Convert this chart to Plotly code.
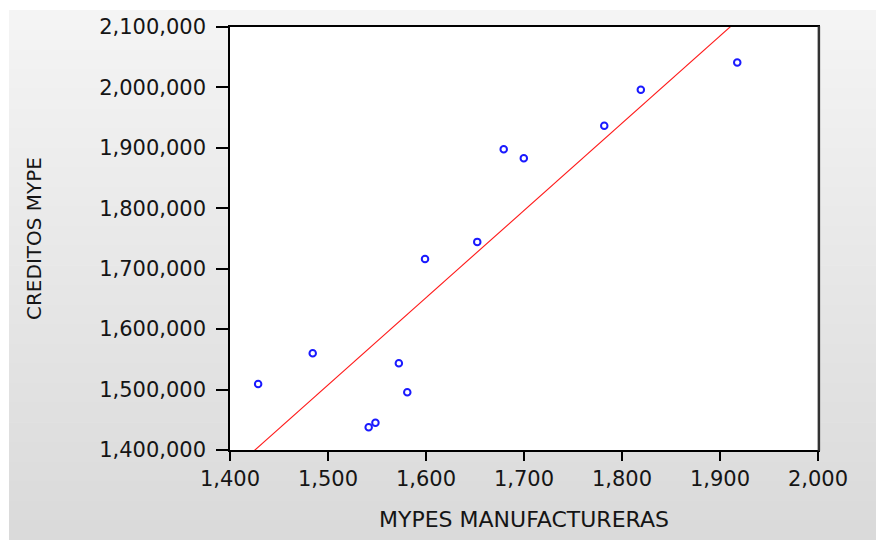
import numpy as np
import plotly.graph_objects as go

# Data
mypes_manufactureras = [1428.7, 1484.4, 1572.3, 1580.9, 1541.5, 1548.4, 1599.0,
                        1652.3, 1679.3, 1699.8, 1781.9, 1819.2, 1917.6]
creditos_mype = [1509300, 1560100, 1543500, 1495500, 1437500, 1445200, 1716000,
                 1744400, 1897800, 1882900, 1936400, 1996000, 2041200]

x_ticks = [1400, 1500, 1600, 1700, 1800, 1900, 2000]
y_ticks = [1400000, 1500000, 1600000, 1700000, 1800000, 1900000, 2000000, 2100000]

x_title = "MYPES MANUFACTURERAS"
y_title = "CREDITOS MYPE"

# OLS fit line
slope, intercept = np.polyfit(mypes_manufactureras, creditos_mype, 1)
fit_x = np.array([x_ticks[0], x_ticks[-1]])
fit_y = slope * fit_x + intercept

W, H = 876, 540
L, R, T, B = 230, 818, 27, 450
pw, ph = R - L, B - T

def px2paper_x(px):
    return (px - L) / pw

def px2paper_y(py):
    return (B - py) / ph

fig = go.Figure()

fig.add_trace(go.Scatter(
    x=fit_x, y=fit_y, mode="lines",
    line=dict(color="#ff1a1a", width=1.1),
    hoverinfo="skip", showlegend=False,
))
fig.add_trace(go.Scatter(
    x=mypes_manufactureras, y=creditos_mype, mode="markers",
    marker=dict(symbol="circle-open", size=6.5, color="#1a1aff", line=dict(width=2)),
    showlegend=False,
))

# Gradient background panel (light grey at top to darker grey at bottom)
shapes = []
top_px, bot_px, left_px, right_px = 10, 540, 9, 876
n = 27
c0, c1 = 245, 217
for i in range(n):
    y0 = top_px + (bot_px - top_px) * i / n
    y1 = top_px + (bot_px - top_px) * (i + 1) / n + 0.6
    c = round(c0 + (c1 - c0) * (i + 0.5) / n)
    shapes.append(dict(
        type="rect", xref="paper", yref="paper", layer="below",
        x0=px2paper_x(left_px), x1=px2paper_x(right_px),
        y0=px2paper_y(min(y1, bot_px)), y1=px2paper_y(y0),
        fillcolor=f"rgb({c},{c},{c})", line=dict(width=0),
    ))
# white plot area
shapes.append(dict(type="rect", xref="paper", yref="paper", layer="below",
                   x0=0, x1=1, y0=0, y1=1, fillcolor="white", line=dict(width=0)))
# darker right border of the frame
shapes.append(dict(type="line", xref="paper", yref="paper", layer="above",
                   x0=1.0015, x1=1.0015, y0=-0.002, y1=1.002,
                   line=dict(color="#333333", width=2.5)))

font_family = "DejaVu Sans, Verdana, sans-serif"
txt_color = "#151515"

fig.update_layout(
    width=W, height=H,
    margin=dict(l=L, r=W - R, t=T, b=H - B),
    paper_bgcolor="white",
    plot_bgcolor="white",
    shapes=shapes,
    font=dict(family=font_family, size=21, color=txt_color),
    showlegend=False,
)

fig.update_xaxes(
    range=[x_ticks[0], x_ticks[-1]],
    tickmode="array", tickvals=x_ticks,
    ticktext=[f"{v:,}" for v in x_ticks],
    ticks="outside", ticklen=9, tickwidth=1.5, tickcolor="black",
    showline=True, linecolor="black", linewidth=1.5, mirror=True,
    showgrid=False, zeroline=False,
    tickfont=dict(size=21, family=font_family, color=txt_color),
    title=dict(text=x_title, font=dict(size=22, family=font_family, color=txt_color), standoff=22),
)
fig.update_yaxes(
    range=[y_ticks[0], y_ticks[-1]],
    tickmode="array", tickvals=y_ticks,
    ticktext=[f"{v:,}" for v in y_ticks],
    ticks="outside", ticklen=12, tickwidth=1.5, tickcolor="black",
    showline=True, linecolor="black", linewidth=1.5, mirror=True,
    showgrid=False, zeroline=False,
    ticklabelstandoff=6,
    tickfont=dict(size=21, family=font_family, color=txt_color),
    title=dict(text=y_title, font=dict(size=20, family=font_family, color=txt_color), standoff=52),
)

fig.write_html("out.html")
